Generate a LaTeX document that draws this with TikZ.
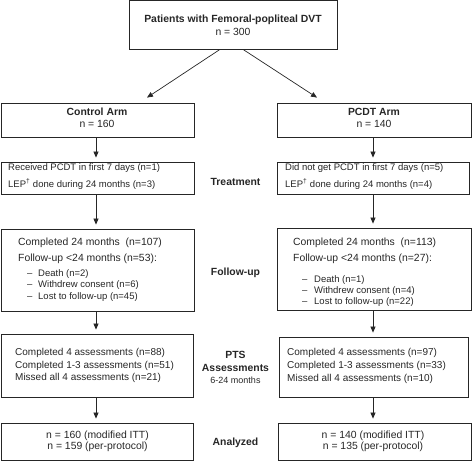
\documentclass[tikz,border=0pt]{standalone}
\usepackage{fontspec}
\setmainfont{Liberation Sans}
\usetikzlibrary{arrows.meta}
\begin{document}
\begin{tikzpicture}[x=1pt,y=-1pt,
  box/.style={draw=black!85, line width=0.8pt, inner sep=0pt, rectangle},
  arr/.style={-{Triangle[length=6pt,width=5pt]}, line width=0.7pt, draw=black!85},
  varr/.style={arr, shorten >=4pt},
  tl/.style={inner sep=0pt, anchor=base west, text=black!85, font=\fontsize{10.4}{12}\selectfont},
  ts/.style={tl, font=\fontsize{9.5}{11}\selectfont},
  tc/.style={inner sep=0pt, anchor=base, text=black!85, font=\fontsize{10.4}{12}\selectfont},
  tb/.style={tc, font=\bfseries\fontsize{10.4}{12}\selectfont},
  lab/.style={tc, font=\bfseries\fontsize{10.4}{12}\selectfont},
  bullet/.style={ts}
]
\useasboundingbox (0,0) rectangle (474,462);

% boxes
\node[box, minimum width=208pt, minimum height=48.5pt] (top) at (233,24.75) {};
\node[box, minimum width=193pt, minimum height=34pt] (ctrl) at (97.5,120) {};
\node[box, minimum width=194pt, minimum height=34pt] (pcdt) at (374,120) {};
\node[box, minimum width=193pt, minimum height=32pt] (treatL) at (97.5,178) {};
\node[box, minimum width=192pt, minimum height=32pt] (treatR) at (373,178) {};
\node[box, minimum width=193pt, minimum height=82pt] (fuL) at (97.5,270) {};
\node[box, minimum width=194pt, minimum height=82pt] (fuR) at (374,269) {};
\node[box, minimum width=192pt, minimum height=63pt] (ptsL) at (97,365.5) {};
\node[box, minimum width=189pt, minimum height=60pt] (ptsR) at (373.5,367) {};
\node[box, minimum width=192pt, minimum height=37pt] (anL) at (97,441.5) {};
\node[box, minimum width=193pt, minimum height=37pt] (anR) at (374.5,441.5) {};

% texts
\node[tb] (t1) at (233,22.5) {Patients with Femoral-popliteal DVT};
\node[tc] (t2) at (233,35.5) {n = 300};
\node[tb] (c1) at (97,115.5) {Control Arm};
\node[tc] (c2) at (97,127.5) {n = 160};
\node[tb] (p1) at (374,115.5) {PCDT Arm};
\node[tc] (p2) at (374,127.5) {n = 140};

\node[ts] (trl1) at (8,170.5) {Received PCDT in first 7 days (n=1)};
\node[ts] (trl2) at (8,187.5) {LEP\textsuperscript{†} done during 24 months (n=3)};
\node[ts] (trr1) at (285,170.5) {Did not get PCDT in first 7 days (n=5)};
\node[ts] (trr2) at (285,187.5) {LEP\textsuperscript{†} done during 24 months (n=4)};

\node[tl] (ful1) at (18,245.5) {Completed 24 months\ \ (n=107)};
\node[tl] (ful2) at (18,261.5) {Follow-up <24 months (n=53):};
\node[bullet] (fuld1) at (27,276.5) {–};
\node[ts] (ful3) at (38,276.5) {Death (n=2)};
\node[bullet] (fuld2) at (27,287.5) {–};
\node[ts] (ful4) at (38,287.5) {Withdrew consent (n=6)};
\node[bullet] (fuld3) at (27,299.5) {–};
\node[ts] (ful5) at (38,299.5) {Lost to follow-up (n=45)};

\node[tl] (fur1) at (293,245.5) {Completed 24 months\ \ (n=113)};
\node[tl] (fur2) at (293,261.5) {Follow-up <24 months (n=27):};
\node[bullet] (furd1) at (302,282.5) {–};
\node[ts] (fur3) at (314,282.5) {Death (n=1)};
\node[bullet] (furd2) at (302,293.5) {–};
\node[ts] (fur4) at (314,293.5) {Withdrew consent (n=4)};
\node[bullet] (furd3) at (302,304.5) {–};
\node[ts] (fur5) at (314,304.5) {Lost to follow-up (n=22)};

\node[tl, font=\fontsize{10}{12}\selectfont] (ptl1) at (15,355.2) {Completed 4 assessments (n=88)};
\node[tl, font=\fontsize{10}{12}\selectfont] (ptl2) at (15,368.5) {Completed 1-3 assessments (n=51)};
\node[tl, font=\fontsize{10}{12}\selectfont] (ptl3) at (15,380.8) {Missed all 4 assessments (n=21)};
\node[tl, font=\fontsize{10}{12}\selectfont] (ptr1) at (287,355.2) {Completed 4 assessments (n=97)};
\node[tl, font=\fontsize{10}{12}\selectfont] (ptr2) at (287,368.5) {Completed 1-3 assessments (n=33)};
\node[tl, font=\fontsize{10}{12}\selectfont] (ptr3) at (287,381.5) {Missed all 4 assessments (n=10)};

\node[tc] (anl1) at (97.5,438) {n = 160 (modified ITT)};
\node[tc] (anl2) at (97.5,449.5) {n = 159 (per-protocol)};
\node[tc] (anr1) at (373,438) {n = 140 (modified ITT)};
\node[tc] (anr2) at (373,449.5) {n = 135 (per-protocol)};

% centre labels
\node[lab] (lt) at (235.5,185.5) {Treatment};
\node[lab] (lf) at (235.5,275.5) {Follow-up};
\node[lab] (lp1) at (235.5,358.5) {PTS};
\node[lab] (lp2) at (235.5,371.5) {Assessments};
\node[tc, font=\fontsize{9}{11}\selectfont] (lp3) at (235.5,383.5) {6-24 months};
\node[lab] (la) at (235.5,445.5) {Analyzed};

% arrows
\draw[arr] ([xshift=-13pt]top.south) -- ([xshift=49.5pt,yshift=5pt]ctrl.north);
\draw[arr] ([xshift=10pt]top.south) -- ([xshift=-57pt,yshift=5pt]pcdt.north);
\draw[varr] ([xshift=-1.5pt]ctrl.south) -- ([xshift=-1.5pt]treatL.north);
\draw[varr] ([xshift=-1.5pt]treatL.south) -- ([xshift=-1.5pt]fuL.north);
\draw[varr] ([xshift=-1.5pt]fuL.south) -- ([xshift=-1pt]ptsL.north);
\draw[varr] ([xshift=-1pt]ptsL.south) -- ([xshift=-1pt]anL.north);
\draw[varr] ([xshift=-1pt]pcdt.south) -- (treatR.north);
\draw[varr] (treatR.south) -- ([xshift=-1pt]fuR.north);
\draw[varr] ([xshift=-1pt]fuR.south) -- ([xshift=-0.5pt]ptsR.north);
\draw[varr] ([xshift=-0.5pt]ptsR.south) -- ([xshift=-1.5pt]anR.north);
\end{tikzpicture}
\end{document}
